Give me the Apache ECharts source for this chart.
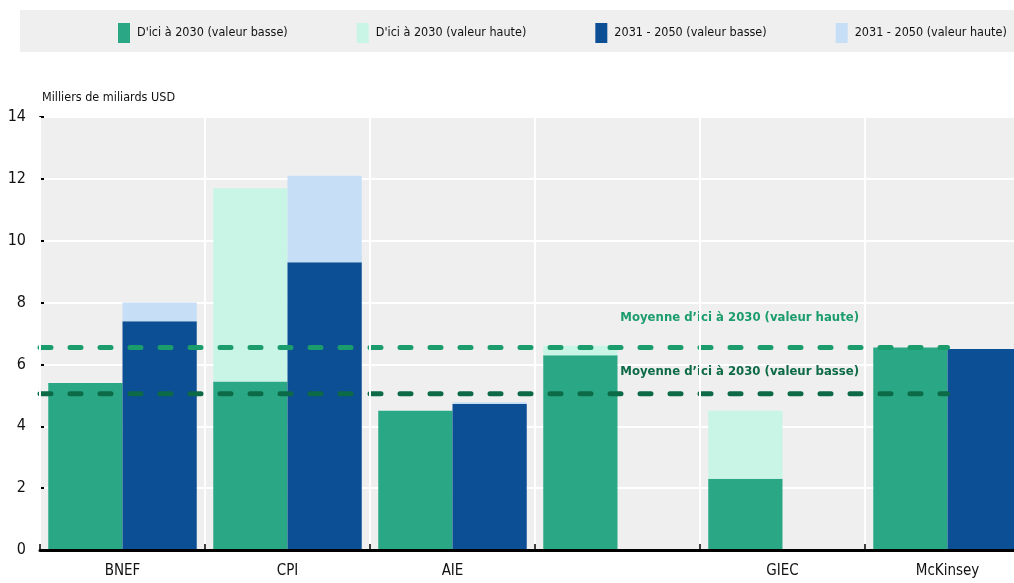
<!DOCTYPE html>
<html lang="fr">
  <head>
    <meta charset="UTF-8" />
    <title>Besoins de financement</title>
    <script src="https://cdn.jsdelivr.net/npm/echarts@6/dist/echarts.min.js"></script>
    <style>
      html, body { margin: 0; padding: 0; background: #fff; }
    </style>
  </head>
  <body>
    <div id="chart" style="width: 1014px; height: 583px"></div>
    <script>
      const categories = ['BNEF', 'CPI', 'AIE', '', 'GIEC', 'McKinsey'];
      const low2030 = [5.4, 5.45, 4.5, 6.3, 2.3, 6.55];
      const high2030 = [5.4, 11.7, 4.5, 6.6, 4.5, 6.55];
      const low2050 = [7.4, 9.3, 4.72, null, null, 6.5];
      const high2050 = [8.0, 12.1, 4.78, null, null, 6.5];
      const meanHigh = 6.55;
      const meanLow = 5.05;
      const yTicks = [0, 2, 4, 6, 8, 10, 12, 14];

      const font = '"Liberation Sans Narrow", "DejaVu Sans Condensed", sans-serif';

      // the light part of each bar is stacked on top of the dark one
      const diff = (lo, hi) => lo.map((v, i) => (v == null ? null : +(hi[i] - v).toFixed(2)));

      const mCharts = echarts.init(document.getElementById('chart'));

      const dashLine = (name, value, color, labelOffset) => ({
        name: name,
        type: 'line',
        xAxisIndex: 1,
        symbol: 'none',
        silent: true,
        z: 5,
        data: [[0, value], [5.5, value]],
        lineStyle: { color: color, width: 5, type: [11, 19], cap: 'round' },
        markPoint: {
          symbol: 'circle',
          symbolSize: 0,
          data: [{ coord: [5, value] }],
          label: {
            show: true,
            position: 'left',
            distance: 0,
            offset: [-6, labelOffset],
            formatter: name,
            color: color,
            fontFamily: font,
            fontWeight: 'bold',
            fontSize: 13
          }
        }
      });

      const option = {
        animation: false,
        graphic: [
          {
            type: 'rect',
            left: 20,
            top: 10,
            shape: { width: 994, height: 42 },
            style: { fill: '#efefef' },
            z: -10
          }
        ],
        legend: {
          left: 118,
          top: 23,
          padding: 0,
          itemWidth: 12,
          itemHeight: 20,
          itemGap: 69,
          icon: 'rect',
          data: [
            "D'ici à 2030 (valeur basse)",
            "D'ici à 2030 (valeur haute)",
            '2031 - 2050 (valeur basse)',
            '2031 - 2050 (valeur haute)'
          ],
          textStyle: { fontFamily: font, fontSize: 12.5, color: '#111', padding: [0, 0, 0, 2] }
        },
        grid: {
          left: 40,
          width: 990,
          top: 117,
          bottom: 33,
          outerBoundsMode: 'none',
          containLabel: false,
          show: true,
          backgroundColor: '#efefef',
          borderWidth: 0
        },
        xAxis: [
          {
            type: 'category',
            data: categories,
            axisLine: { lineStyle: { color: '#000', width: 3 } },
            axisTick: { show: true, inside: true, length: 6, lineStyle: { color: '#000', width: 1.5 } },
            axisLabel: { fontFamily: font, fontSize: 15, color: '#111', margin: 14 },
            splitLine: { show: true, lineStyle: { color: '#fff', width: 2 } },
            z: 10
          },
          {
            type: 'value',
            min: 0,
            max: 6,
            show: false
          }
        ],
        yAxis: {
          type: 'value',
          min: 0,
          max: 14,
          interval: 2,
          name: 'Milliers de miliards USD',
          nameLocation: 'end',
          nameGap: 13,
          nameTextStyle: { fontFamily: font, fontSize: 12.5, color: '#111', align: 'left', padding: [0, 0, 0, 2] },
          axisLine: { show: true, lineStyle: { color: '#000', width: 2 } },
          axisTick: { show: true, inside: true, length: 4, lineStyle: { color: '#000', width: 2 } },
          axisLabel: {
            fontFamily: font,
            fontSize: 16,
            color: '#111',
            margin: 14,
            formatter: (v) => (yTicks.includes(v) ? String(v) : '')
          },
          splitLine: { show: true, lineStyle: { color: '#fff', width: 2 } }
        },
        series: [
          {
            name: "D'ici à 2030 (valeur basse)",
            type: 'bar',
            stack: 'a',
            barGap: 0,
            barCategoryGap: '10%',
            itemStyle: { color: '#2aa886' },
            data: low2030
          },
          {
            name: "D'ici à 2030 (valeur haute)",
            type: 'bar',
            stack: 'a',
            itemStyle: { color: '#c8f5e6' },
            data: diff(low2030, high2030)
          },
          {
            name: '2031 - 2050 (valeur basse)',
            type: 'bar',
            stack: 'b',
            itemStyle: { color: '#0d4f94' },
            data: low2050
          },
          {
            name: '2031 - 2050 (valeur haute)',
            type: 'bar',
            stack: 'b',
            itemStyle: { color: '#c6dff7' },
            data: diff(low2050, high2050)
          },
          dashLine("Moyenne d’ici à 2030 (valeur haute)", meanHigh, '#1a9c6c', -30),
          dashLine("Moyenne d’ici à 2030 (valeur basse)", meanLow, '#0c6a46', -22)
        ]
      };
      mCharts.setOption(option);
    </script>
  </body>
</html>
